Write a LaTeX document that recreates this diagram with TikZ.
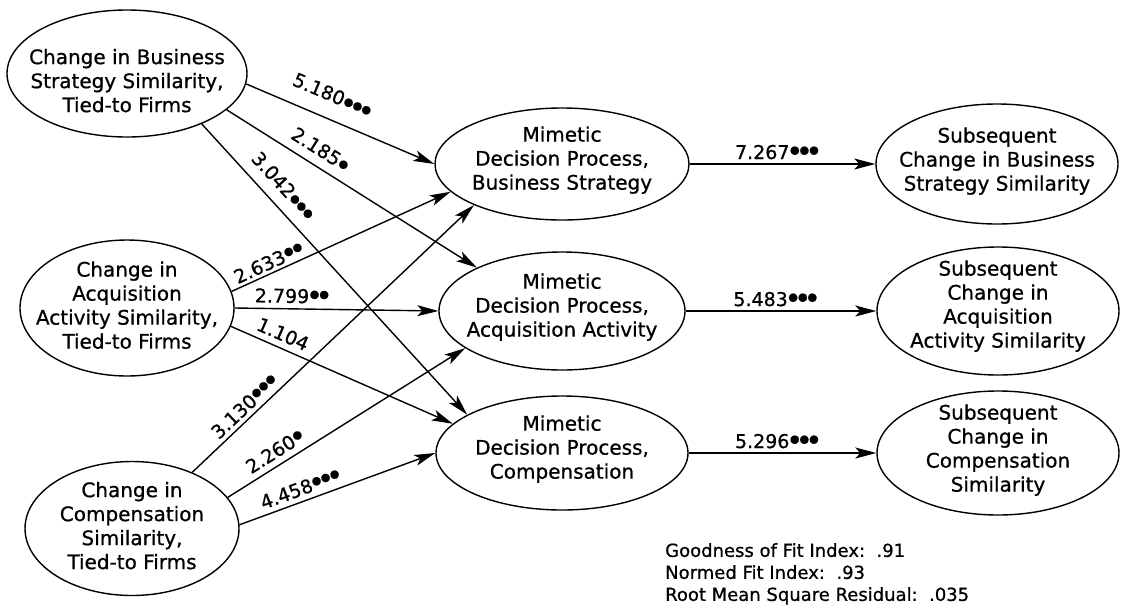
\documentclass[tikz,border=0pt]{standalone}
\usepackage{fontspec}
\setmainfont{DejaVu Sans}[FakeBold=0.8]
\usetikzlibrary{shapes.geometric,arrows.meta}
\newcommand\ztext[2][0pt]{\makebox[0pt]{\raisebox{\dimexpr-5pt-#1\relax}[0pt][0pt]{\begin{tabular}{@{}c@{}}#2\end{tabular}}}}
\newcommand\sg[2][5.5pt]{\raisebox{#1}{\fontsize{11}{11}\selectfont\kern0.5pt#2}}
\tikzset{
  ell/.style={draw, ellipse, inner sep=0pt, line width=1.4pt, font=\fontsize{20}{24}\selectfont},
  arr/.style={line width=1.4pt, -{Stealth[length=21pt,width=11pt,inset=5pt]}},
  lab/.style={font=\fontsize{19}{19}\selectfont, inner sep=0pt, sloped},
}
\begin{document}
\begin{tikzpicture}[x=1pt,y=-1pt]
\useasboundingbox (0,0) rectangle (1122,606);
% left
\node[ell, minimum width=240pt, minimum height=127pt] (L1) at (127,73.5)
  {\ztext[10pt]{Change in Business\\Strategy Similarity,\\Tied-to Firms}};
\node[ell, minimum width=214pt, minimum height=136pt] (L2) at (127,308)
  {\ztext{Change in\\Acquisition\\Activity Similarity,\\Tied-to Firms}};
\node[ell, minimum width=214pt, minimum height=134pt] (L3) at (132,528.5)
  {\ztext{Change in\\Compensation\\Similarity,\\Tied-to Firms}};
% middle
\node[ell, minimum width=254pt, minimum height=112pt] (M1) at (562,164)
  {\ztext[-3pt]{Mimetic\\Decision Process,\\Business Strategy}};
\node[ell, minimum width=246pt, minimum height=118pt] (M2) at (562,311)
  {\ztext[-3pt]{Mimetic\\Decision Process,\\Acquisition Activity}};
\node[ell, minimum width=252pt, minimum height=114pt] (M3) at (562,453)
  {\ztext[-3pt]{Mimetic\\Decision Process,\\Compensation}};
% right
\node[ell, minimum width=242pt, minimum height=120pt] (R1) at (997,164)
  {\ztext[-2pt]{Subsequent\\Change in Business\\Strategy Similarity}};
\node[ell, minimum width=242pt, minimum height=128pt] (R2) at (998,311)
  {\ztext[-4pt]{Subsequent\\Change in\\Acquisition\\Activity Similarity}};
\node[ell, minimum width=242pt, minimum height=124pt] (R3) at (998,453)
  {\ztext[-2pt]{Subsequent\\Change in\\Compensation\\Similarity}};
% arrows left -> middle
\draw[arr] (L1.-5) -- (M1.west) node[lab, pos=0.41, above=16pt] {5.180\sg[3pt]{●●●}};
\draw[arr] (L1.-20) -- (M2.153) node[lab, pos=0.34, above=9pt] {2.185\sg[3pt]{●}};
\draw[arr] (L1.-34) -- (M3.158) node[lab, pos=0.256, above=11pt] {3.042\sg[3pt]{●●●}};
\draw[arr] (L2.9) -- (M1.-166) node[lab, pos=0.19, above=3pt] {2.633\sg{●●}};
\draw[arr] (L2.east) -- (M2.west) node[lab, pos=0.28, above=5pt] {2.799\sg{●●}};
\draw[arr] (L2.-10) -- (M3.165) node[lab, pos=0.21, above=6pt] {1.104};
\draw[arr] (L3.43) -- (M1.-155) node[lab, pos=0.215, above=4pt] {3.130\sg{●●●}};
\draw[arr] (L3.18) -- (M2.-159) node[lab, pos=0.23, above=6pt] {2.260\sg{●}};
\draw[arr] (L3.2) -- (M3.west) node[lab, pos=0.333, above=5pt] {4.458\sg{●●●}};
% arrows middle -> right
\draw[arr] (M1.east) -- (R1.west) node[lab, pos=0.47, above=4pt] {7.267\sg{●●●}};
\draw[arr] (M2.east) -- (R2.west) node[lab, pos=0.47, above=4pt] {5.483\sg{●●●}};
\draw[arr] (M3.east) -- (R3.west) node[lab, pos=0.47, above=4pt] {5.296\sg{●●●}};
% fit indices
\node[anchor=north west, align=left, inner sep=0pt, font=\fontsize{18}{22}\selectfont] (fit) at (665,543)
  {Goodness of Fit Index:\ \ .91\\Normed Fit Index:\ \ .93\\Root Mean Square Residual:\ \ .035};
\end{tikzpicture}
\end{document}
